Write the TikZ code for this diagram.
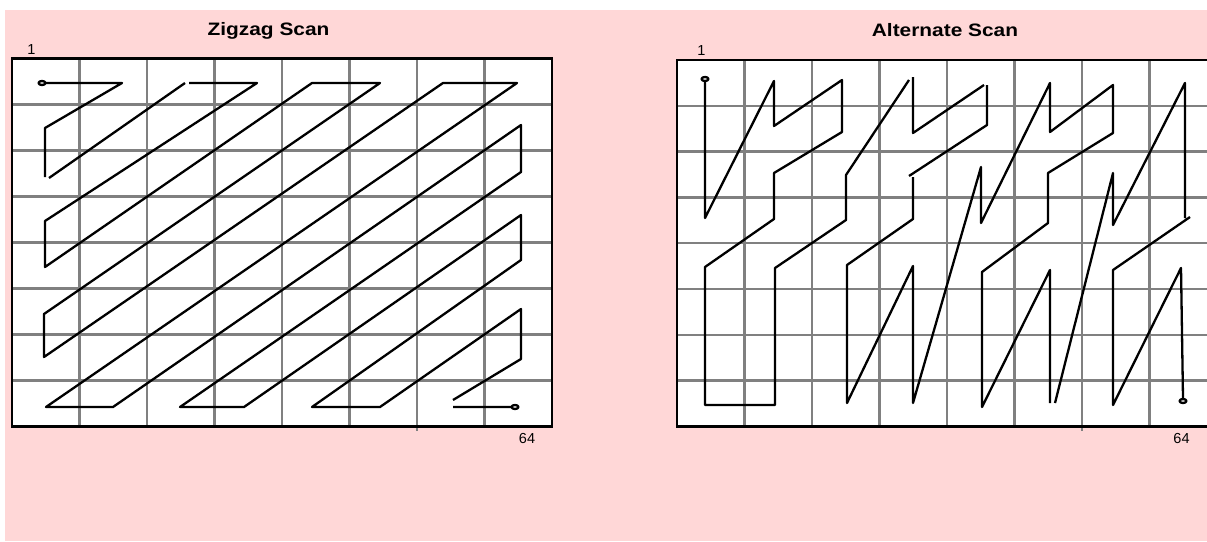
\documentclass[tikz,border=0pt]{standalone}
\usepackage{fontspec}
\setmainfont{Liberation Sans}
\definecolor{bgpink}{RGB}{255,215,215}
\definecolor{gridgray}{RGB}{128,128,128}
\tikzset{gridline/.style={draw=gridgray,line width=2.4pt},frame/.style={draw=black,line width=2.6pt},scan/.style={draw=black,line width=2.3pt,line join=round},ttl/.style={font=\fontsize{18}{21}\selectfont\bfseries,anchor=base,inner sep=0pt,xscale=1.16},num/.style={font=\fontsize{14.5}{17}\selectfont,anchor=base,inner sep=0pt}}

\begin{document}
\begin{tikzpicture}[x=1pt,y=-1pt]
\clip (0,0) rectangle (1207,541);
\fill[white] (0,0) rectangle (1207,541);\fill[bgpink] (5,10) rectangle (1207,541);
% the two 8x8 blocks
\foreach \ox/\oy/\h in {12/58.5/368,677/60/366.5}{\begin{scope}[shift={(\ox,\oy)}]\fill[white] (0,0) rectangle (540,\h);\foreach \i in {1,...,7}{\draw[gridline] (\i*67.5,0)--(\i*67.5,\h) (0,\i*\h/8)--(540,\i*\h/8);}\draw[gridline] (6*67.5,\h)--++(0,4);\draw[frame] (0,0) rectangle (540,\h);\end{scope}}
\node[ttl] (ttlZ) at (268.5,35.7){Zigzag Scan};\node[ttl] (ttlA) at (945,36.7){Alternate Scan};
\node[num] (firstZ) at (31.5,54.3){1};\node[num] (lastZ) at (527,443.3){64};
\node[num] (firstA) at (701.5,55){1};\node[num] (lastA) at (1181.5,443.3){64};
% zigzag
\draw[scan] (42,83) ellipse (3.5 and 2);\draw[scan] (515,407) ellipse (3.5 and 2);
\draw[scan] (45.5,83)--(122,83)--(45,128)--(45,177) (49,178)--(185,83) (189,83)--(257,83)--(45,221)--(45,267)--(312,83)--(380,83)--(44,314)--(44,357)--(443,83)--(517,83)--(46,407)--(113,407)--(521,125)--(521,172)--(180,407)--(244,407)--(521,215)--(521,260)--(312,407)--(380,407)--(521,309)--(521,359)--(453,400) (453,407)--(511.5,407);
% alternate
\draw[scan] (705,79) ellipse (3.5 and 2);\draw[scan] (1183,401) ellipse (3.5 and 2);
\draw[scan] (705,81)--(705,218)--(774,81)--(774,126)--(842,80)--(842,132)--(774,173)--(774,219)--(705,267)--(705,405)--(775,405)--(775,268)--(846,220)--(846,175)--(909,80) (913,77)--(913,133)--(984,85) (987,85)--(987,125)--(909,176) (913,177)--(913,219)--(847,265)--(847,403)--(913,266)--(913,403)--(981,167)--(981,223)--(1050,83)--(1050,132)--(1113,85)--(1113,133)--(1048,173)--(1048,223)--(982,272)--(982,407)--(1050,270)--(1050,403) (1055,403)--(1113,173)--(1113,225)--(1185,83)--(1185,218) (1190,217)--(1113,270)--(1113,405)--(1181,268)--(1183,398.5);
\end{tikzpicture}
\end{document}
